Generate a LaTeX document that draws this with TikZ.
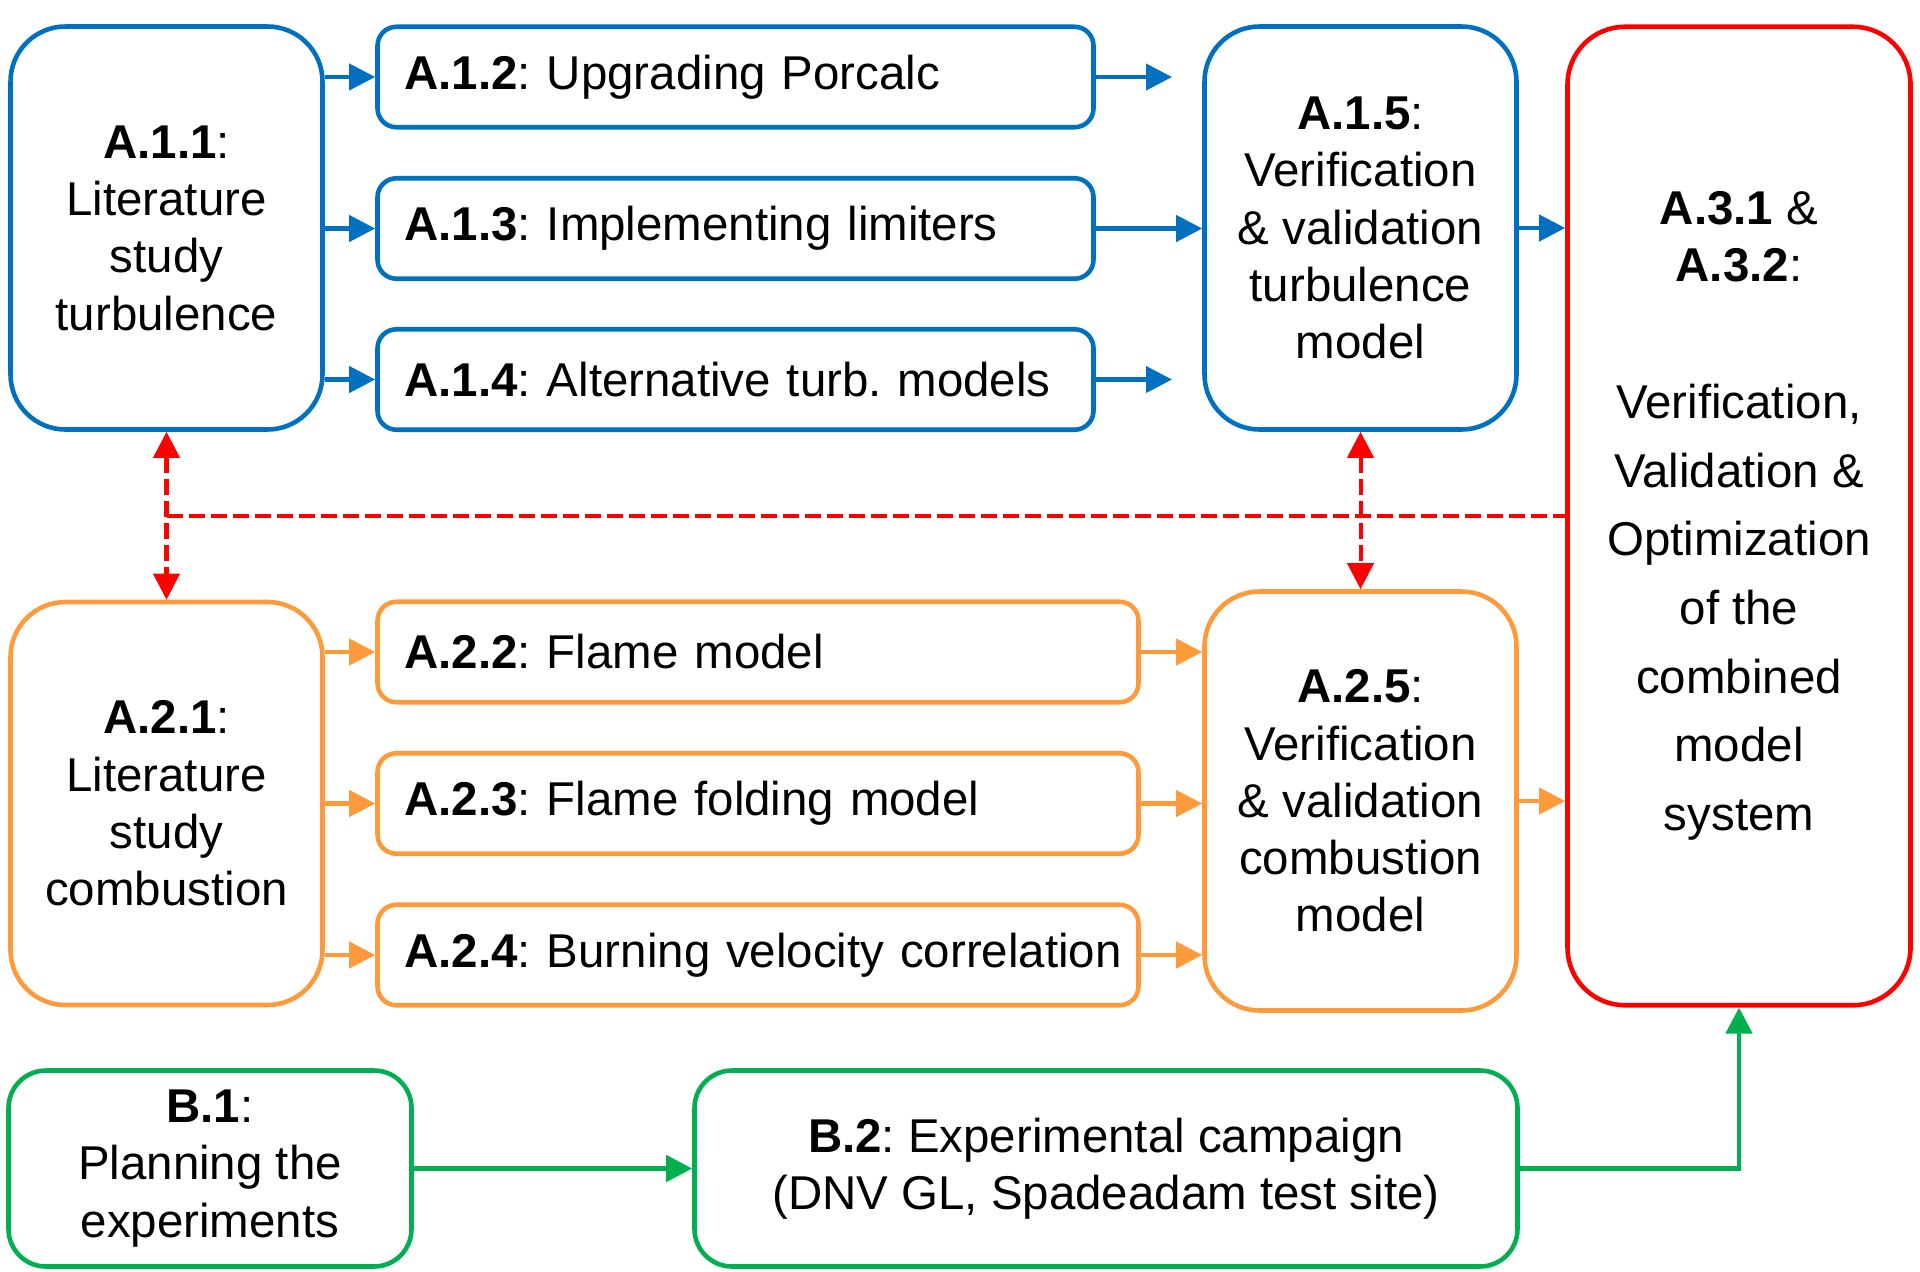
\documentclass[tikz,border=0pt]{standalone}
\usepackage{fontspec}
\setmainfont{Liberation Sans}
\usetikzlibrary{arrows.meta}
\definecolor{wpblue}{HTML}{0070C0}
\definecolor{wporange}{HTML}{FF9A3A}
\definecolor{wpred}{HTML}{FF0000}
\definecolor{wpgreen}{HTML}{00B050}
\frenchspacing
\tikzset{
  box/.style={draw, line width=2.6pt, align=center, inner sep=0pt,
    font=\fontsize{27}{32.6}\selectfont},
  bigbox/.style={box, rounded corners=1.1cm, minimum width=6.24cm, minimum height=8.06cm},
  taskbox/.style={box, rounded corners=0.38cm, minimum height=2.01cm,
    inner xsep=0.54cm, align=left, text width=#1},
  expbox/.style={box, rounded corners=0.75cm, minimum height=3.92cm},
  conn/.style={line width=2.3pt, -{Triangle[length=0.52cm, width=0.52cm]}},
  link/.style={line width=2.3pt, wpred, dash pattern=on 0.32cm off 0.12cm,
    {Triangle[length=0.52cm, width=0.52cm]}-{Triangle[length=0.52cm, width=0.52cm]}}
}
\begin{document}
\begin{tikzpicture}
  \useasboundingbox (0,0) rectangle (38.4,-25.42);
  % Work package A.1: turbulence
  \node[bigbox, draw=wpblue] (a11) at (3.33,-4.56)
    {\textbf{A.1.1}:\\Literature\\study\\turbulence};
  \node[taskbox=13.24cm, draw=wpblue] (a12) at (14.71,-1.54)
    {\mbox{\textbf{A.1.2}: Upgrading Porcalc}};
  \node[taskbox=13.24cm, draw=wpblue] (a13) at (14.71,-4.57)
    {\mbox{\textbf{A.1.3}: Implementing limiters}};
  \node[taskbox=13.24cm, draw=wpblue] (a14) at (14.71,-7.59)
    {\mbox{\textbf{A.1.4}: Alternative turb. models}};
  \node[bigbox, draw=wpblue] (a15) at (27.21,-4.56)
    {\textbf{A.1.5}:\\Verification\\\& validation\\turbulence\\model};
  % Work package A.3: combined system
  \node[box, draw=wpred, rounded corners=1.15cm, minimum width=6.86cm, minimum height=19.57cm]
    (a31) at (34.78,-10.32)
    {\textbf{A.3.1} \&\\\textbf{A.3.2}:\\[45pt]Verification,\\[6.5pt]Validation \&\\[6.5pt]Optimization\\[6.5pt]of the\\[6.5pt]combined\\[6.5pt]model\\[6.5pt]system};
  % Work package A.2: combustion
  \node[bigbox, draw=wporange] (a21) at (3.33,-16.07)
    {\textbf{A.2.1}:\\Literature\\study\\combustion};
  \node[taskbox=14.14cm, draw=wporange] (a22) at (15.16,-13.04)
    {\mbox{\textbf{A.2.2}: Flame model}};
  \node[taskbox=14.14cm, draw=wporange] (a23) at (15.16,-16.07)
    {\mbox{\textbf{A.2.3}: Flame folding model}};
  \node[taskbox=14.14cm, draw=wporange] (a24) at (15.16,-19.1)
    {\mbox{\textbf{A.2.4}: Burning velocity correlation}};
  \node[bigbox, draw=wporange, minimum height=8.38cm] (a25) at (27.21,-16.02)
    {\textbf{A.2.5}:\\Verification\\\& validation\\combustion\\model};
  % Work package B: experiments
  \node[expbox, draw=wpgreen, minimum width=8.06cm] (b1) at (4.2,-23.37)
    {\textbf{B.1}:\\Planning the\\experiments};
  \node[expbox, draw=wpgreen, minimum width=16.46cm] (b2) at (22.12,-23.37)
    {\textbf{B.2}: Experimental campaign\\(DNV GL, Spadeadam test site)};
  % Free ends of the open arrows
  \coordinate (a12end) at (23.44,-1.54);
  \coordinate (a14end) at (23.44,-7.59);
  % Blue connectors
  \foreach \t in {a12,a13,a14}
    \draw[conn, wpblue] (\t.west -| a11.east) -- (\t.west);
  \draw[conn, wpblue] (a12.east) -- (a12end);
  \draw[conn, wpblue] (a13.east) -- (a13.east -| a15.west);
  \draw[conn, wpblue] (a14.east) -- (a14end);
  \draw[conn, wpblue] (a15.east) -- (a15.east -| a31.west);
  % Orange connectors
  \foreach \t in {a22,a23,a24} {
    \draw[conn, wporange] (\t.west -| a21.east) -- (\t.west);
    \draw[conn, wporange] (\t.east) -- (\t.east -| a25.west);
  }
  \draw[conn, wporange] (a25.east) -- (a25.east -| a31.west);
  % Red dashed links
  \draw[link] (a11.south) -- (a21.north);
  \draw[link] (a15.south) -- (a25.north);
  \draw[line width=2.3pt, wpred, dash pattern=on 0.32cm off 0.12cm]
    (a11.south |- a31.west) -- (a31.west);
  % Green connectors
  \draw[conn, wpgreen, line width=2.6pt] (b1.east) -- (b2.west);
  \draw[conn, wpgreen, line width=2.6pt] (b2.east) -| (a31.south);
\end{tikzpicture}
\end{document}
